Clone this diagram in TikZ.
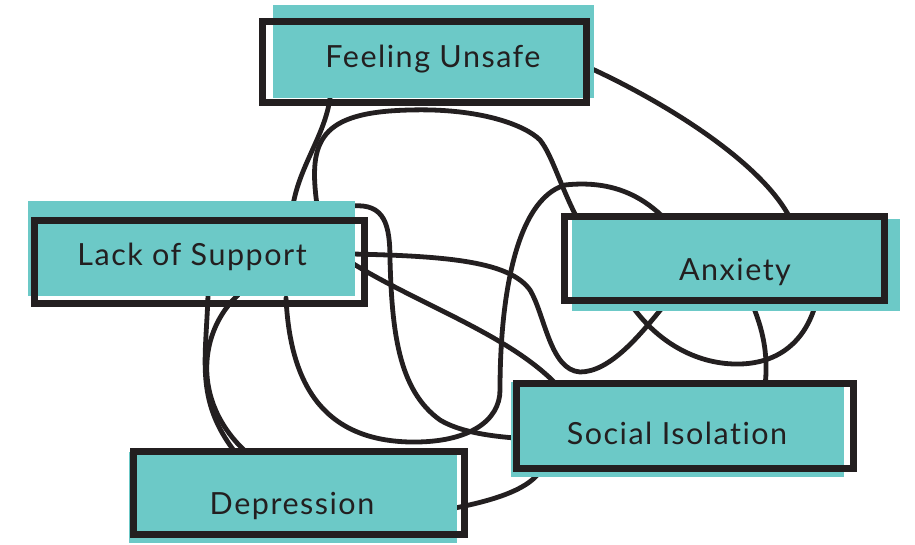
\documentclass[tikz,border=0pt]{standalone}
\usepackage{fontspec}
\setmainfont{Lato}[LetterSpace=5,Ligatures={NoCommon}]
\definecolor{ink}{HTML}{231F20}
\definecolor{tealfill}{HTML}{6CC9C7}
\pgfdeclarelayer{bg}
\pgfsetlayers{bg,main}
\begin{document}
\begin{tikzpicture}[x=1pt,y=-1pt,
  frame/.style={draw=ink, line width=7pt, rectangle, inner sep=0pt, outer sep=0pt},
  lbl/.style={anchor=base, text=ink, font=\fontsize{30.5}{36}\selectfont, inner sep=0pt},
  link/.style={draw=ink, line width=4.8pt, line cap=round}]
\useasboundingbox (0,0) rectangle (915,544);
% teal fills
\fill[tealfill] (273,5) rectangle (594,98);
\fill[tealfill] (28,201) rectangle (355,296);
\fill[tealfill] (572,219) rectangle (900,311);
\fill[tealfill] (129,452) rectangle (457,543);
\fill[tealfill] (511,382) rectangle (844,477);
% borders
\node[frame, minimum width=324pt, minimum height=81.5pt] (fu) at (424.5,61.75) {};
\node[frame, minimum width=330pt, minimum height=83pt] (ls) at (199.5,262) {};
\node[frame, minimum width=320pt, minimum height=84pt] (ax) at (724.5,258.5) {};
\node[frame, minimum width=331pt, minimum height=83pt] (dp) at (299,493) {};
\node[frame, minimum width=337pt, minimum height=85pt] (si) at (685,426) {};
% labels
\node[lbl] (fut) at (433,67) {Feeling Unsafe};
\node[lbl] (lst) at (192,265) {Lack of Support};
\node[lbl] (axt) at (735,280) {Anxiety};
\node[lbl] (dpt) at (292,514) {Depression};
\node[lbl] (sit) at (677,444) {Social Isola{}tion};
\begin{pgfonlayer}{bg}
% A
\draw[link] ([shift={(165.5,6.25)}]fu.center) .. controls (660,100) and (760,160) .. ([shift={(65.5,-40.5)}]ax.center);
% B
\draw[link] ([shift={(-94.5,36.25)}]fu.center) .. controls (325,135) and (300,165) .. ([shift={(93.5,-57)}]ls.center);
% C
\draw[link] ([shift={(117.5,-57)}]ls.center) .. controls (308,140) and (320,112) .. (410,110)
  .. controls (480,108) and (525,125) .. (540,140)
  .. controls (552,155) and (560,185) .. ([shift={(-147.5,-40.5)}]ax.center);
% D
\draw[link] ([shift={(86.5,36)}]ls.center) .. controls (290,380) and (320,440) .. (410,442)
  .. controls (470,443) and (500,420) .. (500,390)
  .. controls (500,300) and (515,200) .. (565,185)
  .. controls (610,180) and (640,195) .. ([shift={(-62.5,-42.5)}]ax.center);
% E
\draw[link] ([shift={(152.5,-56)}]ls.center) .. controls (385,203) and (390,225) .. (390,260)
  .. controls (392,330) and (398,390) .. (440,420)
  .. controls (460,432) and (490,436) .. ([shift={(-170,12)}]si.center);
% F
\draw[link] ([shift={(152.5,-8)}]ls.center) .. controls (450,256) and (510,262) .. (530,290)
  .. controls (545,315) and (550,370) .. (580,372)
  .. controls (610,372) and (640,335) .. ([shift={(-62.5,49.5)}]ax.center);
% G
\draw[link] ([shift={(152.5,1)}]ls.center) .. controls (420,305) and (510,335) .. ([shift={(-127,-40)}]si.center);
% H
\draw[link] ([shift={(-92.5,47.5)}]ax.center) .. controls (660,345) and (700,365) .. (740,364)
  .. controls (780,363) and (805,340) .. ([shift={(90.5,47.5)}]ax.center);
% I
\draw[link] ([shift={(28.5,47.5)}]ax.center) .. controls (765,335) and (768,360) .. ([shift={(80,-40)}]si.center);
% J
\draw[link] ([shift={(156,15)}]dp.center) .. controls (495,500) and (525,490) .. ([shift={(-147,48)}]si.center);
% K
\draw[link] ([shift={(8.5,33)}]ls.center) .. controls (206,360) and (195,400) .. ([shift={(-64,-41)}]dp.center);
% L
\draw[link] ([shift={(38.5,33)}]ls.center) .. controls (200,330) and (190,400) .. ([shift={(-53,-41)}]dp.center);
\end{pgfonlayer}
\end{tikzpicture}
\end{document}
